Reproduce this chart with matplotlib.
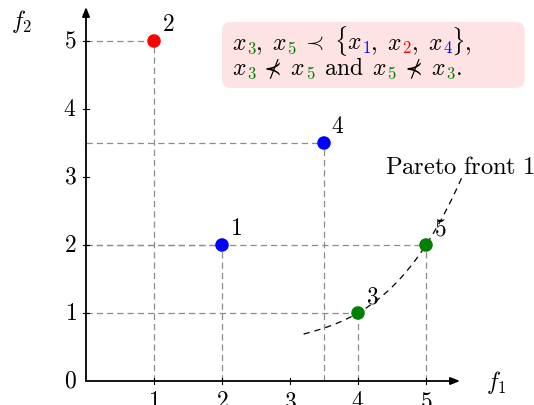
import numpy as np
import matplotlib
matplotlib.use("Agg")
import matplotlib.pyplot as plt
from matplotlib.patches import FancyBboxPatch

plt.rcParams["mathtext.fontset"] = "cm"

# Solutions in objective space
solution_ids = ["1", "2", "3", "4", "5"]
f1_values = [2, 1, 4, 3.5, 5]
f2_values = [2, 5, 1, 3.5, 2]
point_colors = ["#0000ff", "#ff0000", "#008000", "#0000ff", "#008000"]

# Knots of the sketched first Pareto front
front_f1 = [3.2, 4, 5, 5.53]
front_f2 = [0.69, 1, 2, 3.0]

x_ticks = [1, 2, 3, 4, 5]
y_ticks = [0, 1, 2, 3, 4, 5]

W, H, DPI = 534, 405, 100
fig = plt.figure(figsize=(W / DPI, H / DPI), dpi=DPI)
ax = fig.add_axes([0, 0, 1, 1])
ax.set_xlim(-86 / 68, (W - 86) / 68)
ax.set_ylim(-(H - 381) / 68, 381 / 68)
ax.axis("off")

FS = 17
GREEN, BLUE, RED = "#008000", "#0000ff", "#ff0000"

# Dashed guides from each solution to the axes
for x, y in zip(f1_values, f2_values):
    ax.plot([0, x], [y, y], color="#8c8c8c", lw=0.9, dashes=(5, 3.2), zorder=1)
    ax.plot([x, x], [0, y], color="#8c8c8c", lw=0.9, dashes=(5, 3.2), zorder=1)

# Axes with arrow heads
arrow = dict(arrowstyle="-|>,head_length=0.55,head_width=0.22", color="black",
             lw=1.3, shrinkA=0, shrinkB=0)
ax.annotate("", xy=(5.5, 0), xytext=(0, 0), arrowprops=arrow, zorder=3)
ax.annotate("", xy=(0, 5.5), xytext=(0, 0), arrowprops=arrow, zorder=3)

tick = 0.045
for t in x_ticks:
    ax.plot([t, t], [-tick, tick], color="black", lw=0.8, zorder=3)
    ax.text(t, -0.12, f"${t}$", ha="center", va="top", fontsize=FS)
for t in y_ticks:
    if t > 0:
        ax.plot([-tick, tick], [t, t], color="black", lw=0.8, zorder=3)
    ax.text(-0.14, t, f"${t}$", ha="right", va="center", fontsize=FS)

ax.text(6.03, -0.02, "$f_1$", ha="center", va="center", fontsize=FS)
ax.text(-0.95, 5.28, "$f_2$", ha="center", va="center", fontsize=FS)

# Smooth cubic through the front knots
coef = np.polyfit(front_f1, front_f2, 3)
fx = np.linspace(front_f1[0], front_f1[-1], 200)
ax.plot(fx, np.polyval(coef, fx), color="black", lw=0.9, dashes=(5, 4), zorder=2)
ax.text(4.39, 3.05, r"$\mathrm{Pareto\ front\ 1}$", ha="left", va="baseline",
        fontsize=17.6)

# Solutions and their labels
ax.scatter(f1_values, f2_values, s=95, c=point_colors, zorder=4, linewidths=0)
for sid, x, y in zip(solution_ids, f1_values, f2_values):
    ax.annotate(f"${sid}$", (x, y), xytext=(10, 12), textcoords="offset points",
                ha="center", va="center", fontsize=FS)

# Dominance note in a rounded pink box
box = FancyBboxPatch((2.0, 4.31), 4.45, 0.97,
                     boxstyle="round,pad=0,rounding_size=0.13",
                     facecolor="#fde3e3", edgecolor="none", zorder=1)
ax.add_patch(box)

line1 = [("$x$", "black"), ("${}_3$", GREEN), (r"$,\ x$", "black"), ("${}_5$", GREEN),
         (r"$\;\prec\;\{x$", "black"), ("${}_1$", BLUE), (r"$,\ x$", "black"),
         ("${}_2$", RED), (r"$,\ x$", "black"), ("${}_4$", BLUE), (r"$\},$", "black")]
line2 = [("$x$", "black"), ("${}_3$", GREEN), (r"$\;\nprec\;x$", "black"), ("${}_5$", GREEN),
         (r"$\,\ \mathrm{and}\ \,x$", "black"), ("${}_5$", GREEN), (r"$\;\nprec\;x$", "black"),
         ("${}_3$", GREEN), ("$.$", "black")]

fig.canvas.draw()
renderer = fig.canvas.get_renderer()


def draw_pieces(anchor, pieces, trim_px=1.0):
    # Lay the coloured pieces side by side, dropping each box's edge padding
    dx = 0.0
    for s, c in pieces:
        t = ax.annotate(s, anchor, xytext=(dx, 0), textcoords="offset points",
                        ha="left", va="baseline", fontsize=FS, color=c, zorder=5)
        bb = t.get_window_extent(renderer)
        dx += (bb.width - trim_px) * 72 / DPI


draw_pieces((2.15, (381 - 50) / 68), line1)
draw_pieces((2.15, (381 - 75) / 68), line2)

fig.savefig("out.png", dpi=DPI)
